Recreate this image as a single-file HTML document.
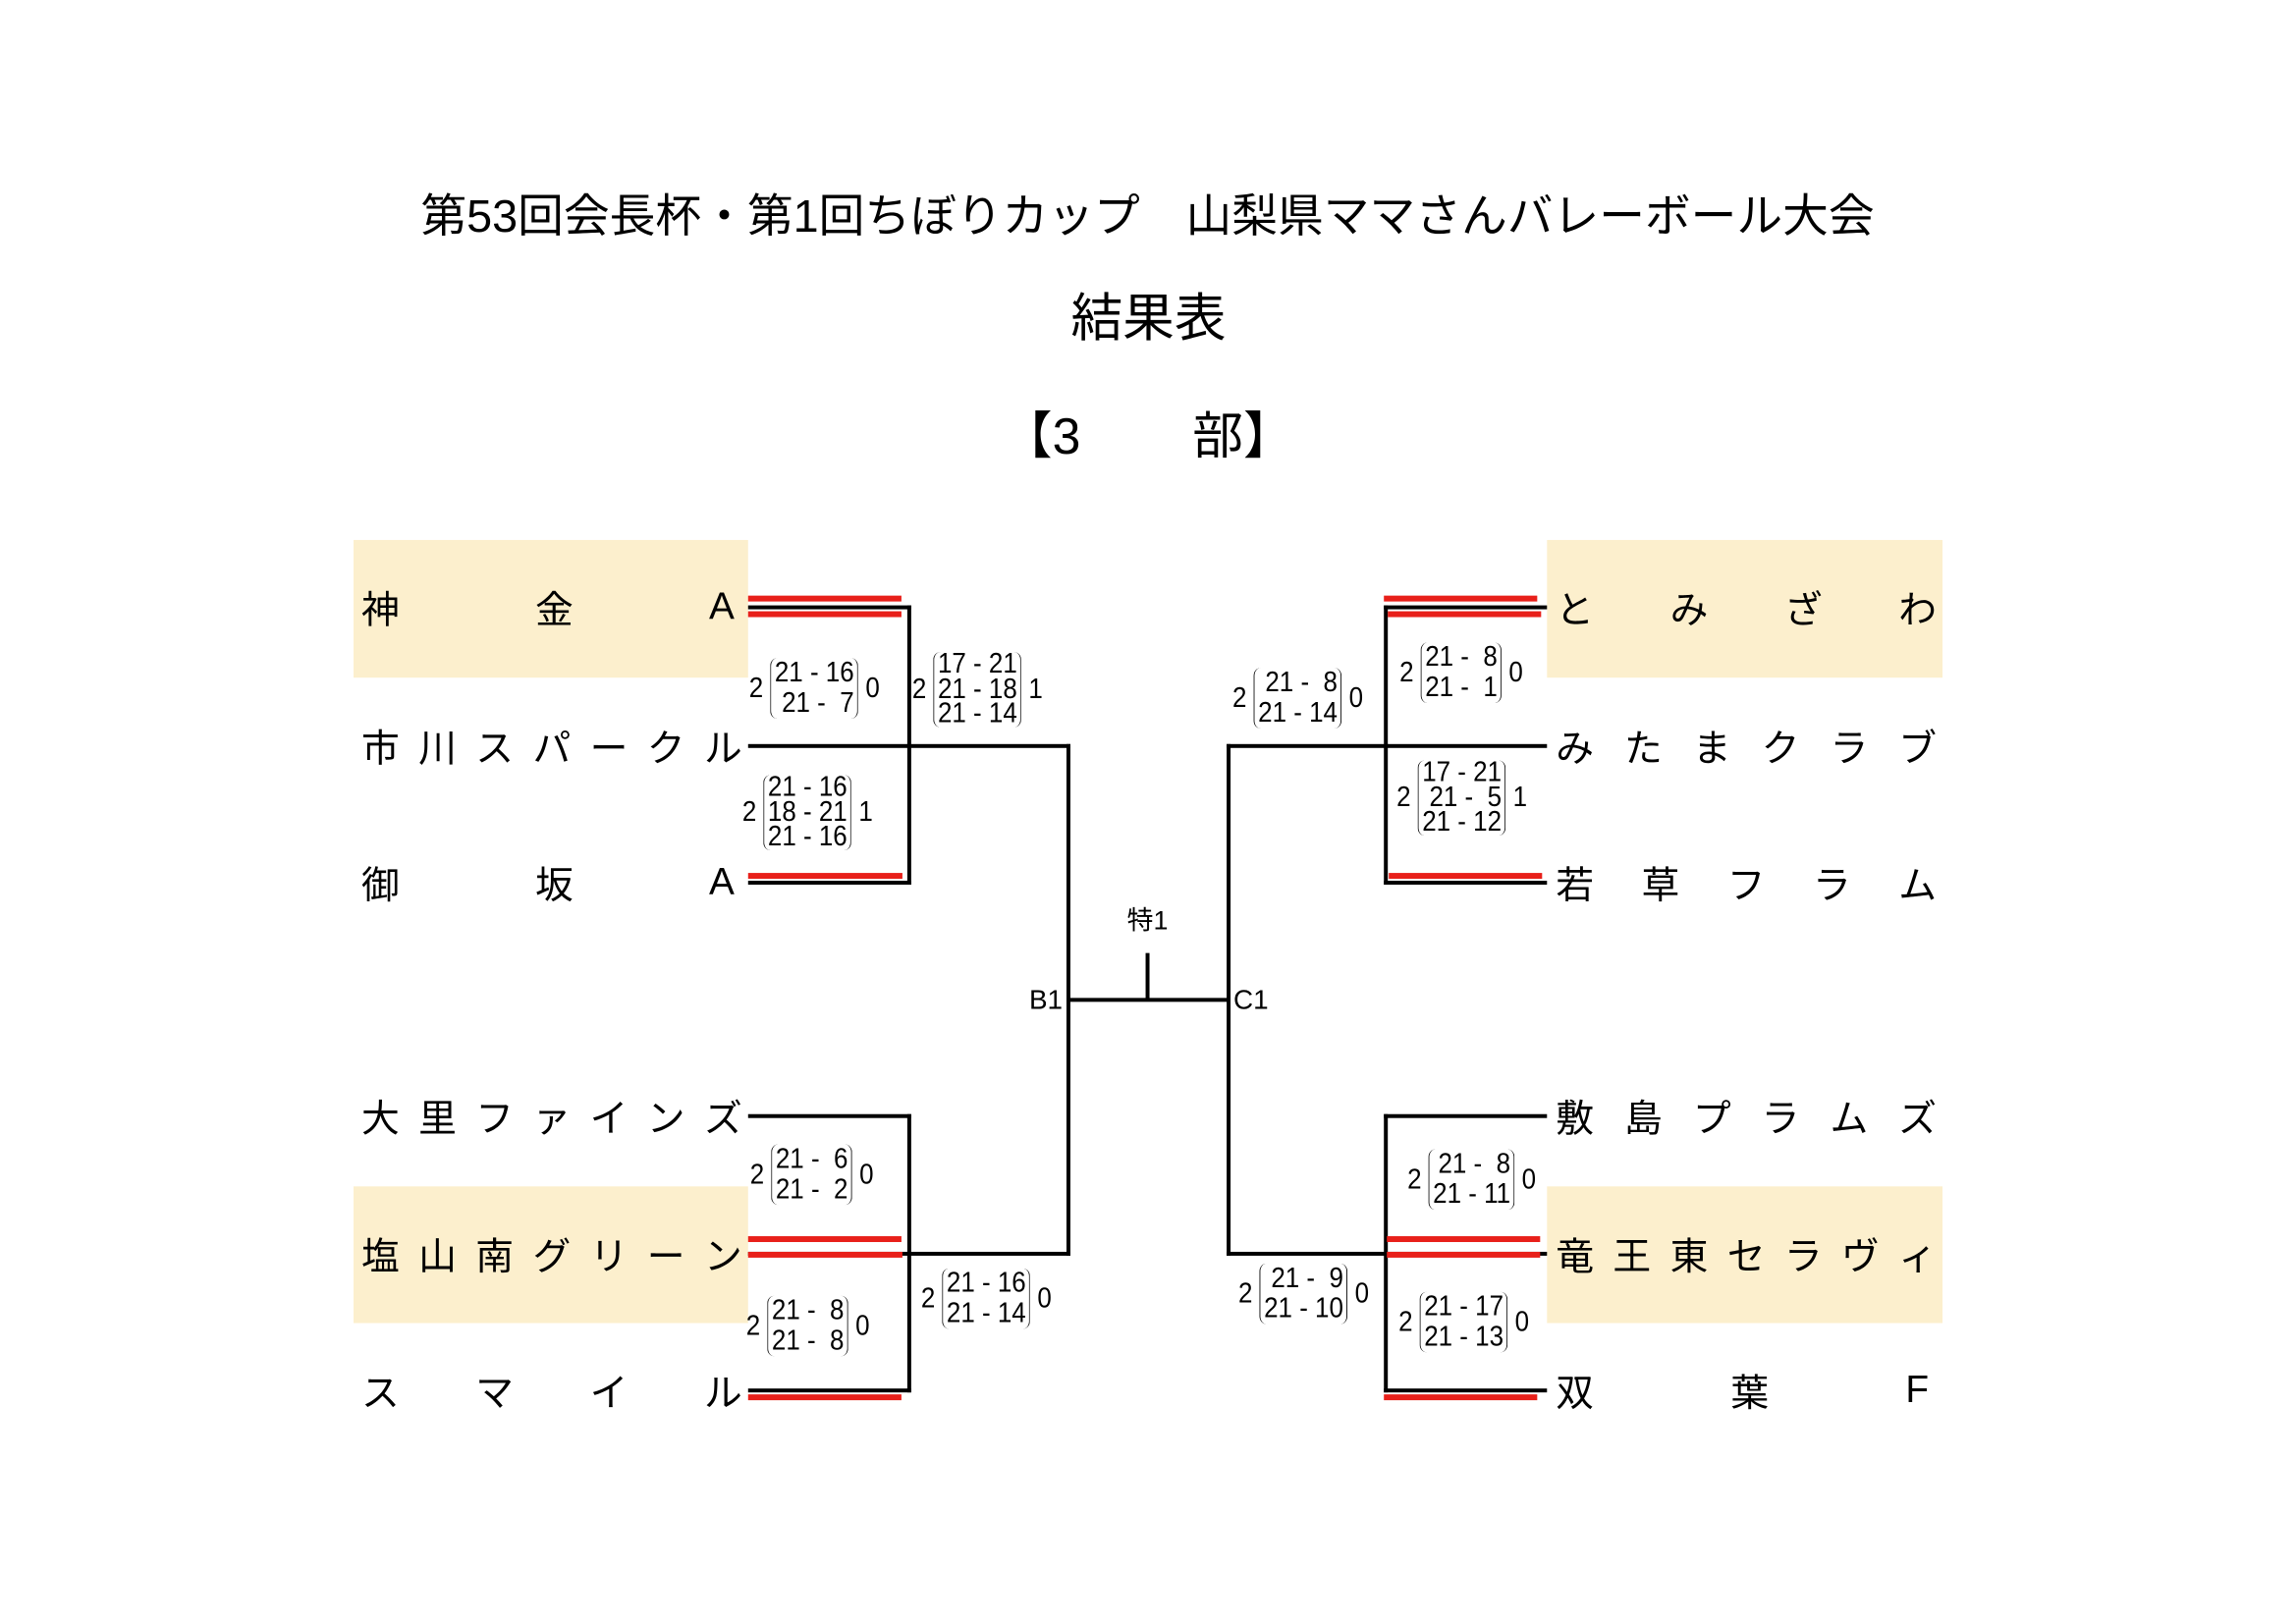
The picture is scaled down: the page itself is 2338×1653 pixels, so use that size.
<!DOCTYPE html>
<html><head><meta charset="utf-8"><style>
body{margin:0;width:2338px;height:1653px;background:#fff;position:relative;overflow:hidden;font-family:"Liberation Sans","Noto Sans CJK JP",sans-serif;color:#000}
#w{position:absolute;left:0;top:0;width:2338px;height:1653px;transform:scale(0.9945);transform-origin:0 0}
.a{position:absolute}
.t{position:absolute;white-space:nowrap;transform:translate(-50%,-50%)}
.bg{position:absolute;background:#fcefcd}
.k{position:absolute;background:#000}
.r{position:absolute;background:#e8201a}
.n{position:absolute;display:flex;justify-content:space-between;align-items:center;font-size:39px;height:50px;transform:translateY(-50%)}
.s{position:absolute;display:flex;align-items:center;transform:translateY(-50%) scaleX(0.9);transform-origin:0 50%;font-size:29px;white-space:pre}
.p{border-left:1.5px solid #000;border-right:1.5px solid #000;border-radius:8px;padding:0 4px;margin:0 8px;line-height:31px;text-align:right}
.p3{line-height:25.5px}
</style></head><body><div id="w">
<div class="t" style="left:1175px;top:217px;font-size:47px">第53回会長杯・第1回ちぼりカップ　山梨県ママさんバレーボール大会</div>
<div class="t" style="left:1176px;top:322px;font-size:53px">結果表</div>
<div class="t" style="left:1066px;top:442px;font-size:52px">【3</div>
<div class="t" style="left:1273px;top:442px;font-size:52px">部】</div>

<div class="bg" style="left:362px;top:553px;width:404px;height:141px"></div>
<div class="bg" style="left:362px;top:1215px;width:404px;height:140px"></div>
<div class="bg" style="left:1584px;top:553px;width:405px;height:141px"></div>
<div class="bg" style="left:1584px;top:1215px;width:405px;height:140px"></div>

<div class="n" style="left:370px;width:382px;top:622px"><span>神</span><span>金</span><span>A</span></div>
<div class="n" style="left:370px;width:390px;top:764px"><span>市</span><span>川</span><span>ス</span><span>パ</span><span>ー</span><span>ク</span><span>ル</span></div>
<div class="n" style="left:370px;width:382px;top:904px"><span>御</span><span>坂</span><span>A</span></div>
<div class="n" style="left:370px;width:390px;top:1143px"><span>大</span><span>里</span><span>フ</span><span>ァ</span><span>イ</span><span>ン</span><span>ズ</span></div>
<div class="n" style="left:370px;width:390px;top:1284px"><span>塩</span><span>山</span><span>南</span><span>グ</span><span>リ</span><span>ー</span><span>ン</span></div>
<div class="n" style="left:370px;width:390px;top:1424px"><span>ス</span><span>マ</span><span>イ</span><span>ル</span></div>

<div class="n" style="left:1593px;width:390px;top:622px"><span>と</span><span>み</span><span>ざ</span><span>わ</span></div>
<div class="n" style="left:1593px;width:390px;top:764px"><span>み</span><span>た</span><span>ま</span><span>ク</span><span>ラ</span><span>ブ</span></div>
<div class="n" style="left:1593px;width:390px;top:904px"><span>若</span><span>草</span><span>フ</span><span>ラ</span><span>ム</span></div>
<div class="n" style="left:1593px;width:390px;top:1143px"><span>敷</span><span>島</span><span>プ</span><span>ラ</span><span>ム</span><span>ズ</span></div>
<div class="n" style="left:1593px;width:390px;top:1284px"><span>竜</span><span>王</span><span>東</span><span>セ</span><span>ラ</span><span>ヴ</span><span>ィ</span></div>
<div class="n" style="left:1593px;width:382px;top:1424px"><span>双</span><span>葉</span><span>F</span></div>

<div class="k" style="left:766px;top:620px;width:167px;height:4px"></div>
<div class="k" style="left:766px;top:762px;width:330px;height:4px"></div>
<div class="k" style="left:766px;top:902px;width:167px;height:4px"></div>
<div class="k" style="left:929px;top:620px;width:4px;height:286px"></div>
<div class="k" style="left:766px;top:1141px;width:167px;height:4px"></div>
<div class="k" style="left:766px;top:1282px;width:330px;height:4px"></div>
<div class="k" style="left:766px;top:1422px;width:167px;height:4px"></div>
<div class="k" style="left:929px;top:1141px;width:4px;height:285px"></div>
<div class="k" style="left:1092px;top:762px;width:4px;height:524px"></div>
<div class="k" style="left:1092px;top:1022px;width:166px;height:4px"></div>
<div class="k" style="left:1173px;top:976px;width:4px;height:48px"></div>
<div class="k" style="left:1256px;top:762px;width:4px;height:524px"></div>
<div class="k" style="left:1256px;top:762px;width:328px;height:4px"></div>
<div class="k" style="left:1256px;top:1282px;width:328px;height:4px"></div>
<div class="k" style="left:1417px;top:620px;width:167px;height:4px"></div>
<div class="k" style="left:1417px;top:902px;width:167px;height:4px"></div>
<div class="k" style="left:1417px;top:620px;width:4px;height:286px"></div>
<div class="k" style="left:1417px;top:1141px;width:167px;height:4px"></div>
<div class="k" style="left:1417px;top:1422px;width:167px;height:4px"></div>
<div class="k" style="left:1417px;top:1141px;width:4px;height:285px"></div>

<div class="r" style="left:766px;top:610px;width:157px;height:6px"></div>
<div class="r" style="left:766px;top:626px;width:157px;height:6px"></div>
<div class="r" style="left:766px;top:894px;width:158px;height:6px"></div>
<div class="r" style="left:766px;top:1266px;width:157px;height:6px"></div>
<div class="r" style="left:766px;top:1282px;width:158px;height:6px"></div>
<div class="r" style="left:766px;top:1428px;width:157px;height:6px"></div>
<div class="r" style="left:1417px;top:610px;width:157px;height:6px"></div>
<div class="r" style="left:1421px;top:626px;width:157px;height:6px"></div>
<div class="r" style="left:1422px;top:894px;width:157px;height:6px"></div>
<div class="r" style="left:1420px;top:1266px;width:157px;height:6px"></div>
<div class="r" style="left:1420px;top:1282px;width:157px;height:6px"></div>
<div class="r" style="left:1417px;top:1428px;width:157px;height:6px"></div>

<div class="t" style="left:1175px;top:940px;font-size:27px">特1</div>
<div class="a" style="right:1250px;top:1008px;font-size:28px">B1</div>
<div class="a" style="left:1263px;top:1008px;font-size:28px">C1</div>

<div class="s" style="left:767px;top:705px"><span>2</span><div class="p"><div>21 - 16</div><div>21 -  7</div></div><span>0</span></div>
<div class="s" style="left:934px;top:706px"><span>2</span><div class="p p3"><div>17 - 21</div><div>21 - 18</div><div>21 - 14</div></div><span>1</span></div>
<div class="s" style="left:760px;top:832px"><span>2</span><div class="p p3"><div>21 - 16</div><div>18 - 21</div><div>21 - 16</div></div><span>1</span></div>
<div class="s" style="left:768px;top:1203px"><span>2</span><div class="p"><div>21 -  6</div><div>21 -  2</div></div><span>0</span></div>
<div class="s" style="left:764px;top:1358px"><span>2</span><div class="p"><div>21 -  8</div><div>21 -  8</div></div><span>0</span></div>
<div class="s" style="left:943px;top:1330px"><span>2</span><div class="p"><div>21 - 16</div><div>21 - 14</div></div><span>0</span></div>
<div class="s" style="left:1262px;top:715px"><span>2</span><div class="p"><div>21 -  8</div><div>21 - 14</div></div><span>0</span></div>
<div class="s" style="left:1433px;top:689px"><span>2</span><div class="p"><div>21 -  8</div><div>21 -  1</div></div><span>0</span></div>
<div class="s" style="left:1430px;top:817px"><span>2</span><div class="p p3"><div>17 - 21</div><div>21 -  5</div><div>21 - 12</div></div><span>1</span></div>
<div class="s" style="left:1441px;top:1208px"><span>2</span><div class="p"><div>21 -  8</div><div>21 - 11</div></div><span>0</span></div>
<div class="s" style="left:1268px;top:1325px"><span>2</span><div class="p"><div>21 -  9</div><div>21 - 10</div></div><span>0</span></div>
<div class="s" style="left:1432px;top:1354px"><span>2</span><div class="p"><div>21 - 17</div><div>21 - 13</div></div><span>0</span></div>
</div></body></html>
